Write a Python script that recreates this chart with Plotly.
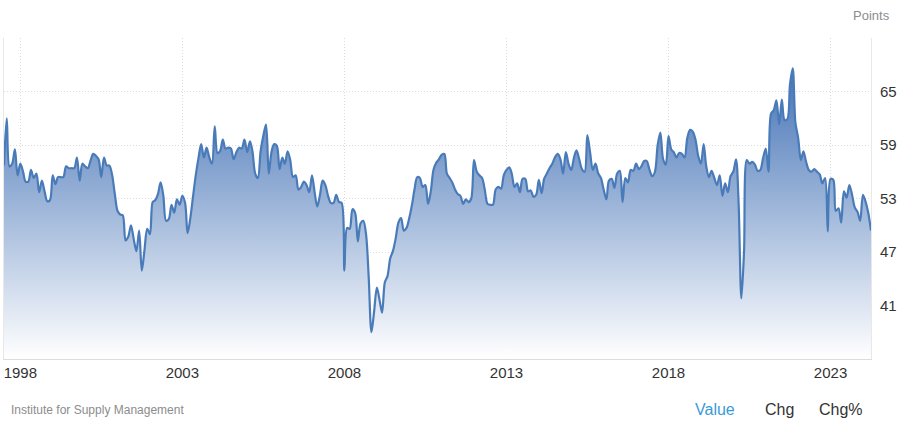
import pandas as pd
import plotly.graph_objects as go

# Monthly values, July 1997 .. April 2024
start_month = "1997-07-01"
values = [
    56.7, 62.0, 56.6, 56.9, 58.5, 55.6, 56.9, 56.0, 54.9, 54.9,
    56.2, 55.3, 55.8, 53.7, 55.0, 53.8, 52.7, 52.8, 55.6, 54.6,
    55.4, 55.4, 55.4, 56.6, 56.4, 56.4, 56.4, 57.6, 55.0, 56.9,
    56.6, 56.4, 57.2, 58.0, 57.8, 57.4, 55.4, 57.6, 56.7, 56.7,
    55.6, 53.5, 51.6, 51.2, 51.1, 48.3, 48.7, 50.0, 48.5, 47.1,
    49.4, 44.9, 47.3, 49.6, 49.0, 52.6, 52.8, 53.5, 54.8, 53.3,
    50.5, 50.7, 52.3, 51.4, 52.9, 52.3, 53.3, 52.5, 49.1, 50.8,
    53.2, 55.6, 57.5, 59.1, 57.6, 58.7, 57.6, 56.9, 61.1, 58.1,
    58.3, 59.6, 58.6, 58.7, 58.6, 57.4, 58.2, 58.7, 58.6, 59.6,
    58.2, 59.4, 58.3, 55.8, 55.3, 58.3, 60.0, 61.3, 55.8, 58.2,
    59.1, 58.9, 56.3, 57.6, 56.9, 58.3, 57.3, 55.4, 55.6, 54.0,
    54.3, 54.9, 54.5, 53.7, 55.6, 53.6, 52.1, 53.4, 55.0, 54.5,
    53.3, 52.5, 52.5, 53.4, 52.6, 52.5, 44.9, 49.7, 49.6, 51.8,
    51.4, 48.2, 50.2, 50.5, 49.0, 44.2, 38.0, 40.3, 43.0, 41.6,
    40.2, 43.6, 44.3, 46.3, 47.1, 48.5, 50.3, 50.8, 49.4, 49.7,
    50.8, 52.3, 54.0, 55.4, 55.3, 54.3, 54.5, 52.4, 53.8, 56.2,
    57.0, 57.4, 57.9, 58.0, 55.8, 55.3, 54.8, 54.0, 53.5, 53.3,
    52.4, 52.9, 52.6, 53.0, 57.3, 56.0, 55.6, 55.3, 54.0, 52.4,
    52.3, 52.3, 54.0, 54.3, 54.1, 55.6, 56.2, 56.5, 55.8, 54.3,
    54.7, 53.7, 55.2, 55.2, 53.8, 53.9, 53.2, 53.4, 55.1, 53.6,
    55.2, 55.8, 56.4, 56.9, 57.6, 58.0, 57.4, 55.8, 58.2, 56.9,
    56.2, 57.6, 58.4, 57.4, 56.3, 56.0, 60.1, 58.2, 56.2, 56.9,
    55.8, 55.3, 54.0, 52.9, 55.0, 55.2, 54.2, 55.8, 56.1, 52.6,
    55.3, 54.8, 56.2, 56.1, 56.9, 56.3, 56.6, 57.2, 57.2, 56.2,
    55.5, 56.0, 59.0, 60.4, 57.4, 56.8, 60.0, 58.5, 58.2, 57.6,
    58.1, 58.0, 57.6, 59.8, 60.7, 60.5, 59.6, 57.8, 56.9, 59.1,
    56.7, 55.4, 56.1, 55.3, 54.5, 55.6, 53.3, 54.7, 53.7, 55.5,
    56.0, 57.4, 52.5, 41.8, 47.0, 57.3, 56.9, 57.1, 56.8, 56.1,
    56.2, 57.5, 58.6, 56.0, 62.5, 62.9, 64.0, 61.3, 64.1, 61.8,
    61.9, 65.8, 67.6, 61.5, 59.8, 57.3, 58.3, 57.1, 56.2, 56.0,
    56.3, 56.0, 55.7, 54.7, 55.3, 49.3, 55.2, 55.1, 51.6, 51.9,
    50.3, 53.8, 53.1, 54.5, 53.4, 52.0, 51.5, 50.5, 53.4, 52.6,
    51.4, 49.4,
]
dates = pd.date_range(start_month, periods=len(values), freq="MS")

y_ticks = [35, 41, 47, 53, 59, 65, 71]
y_tick_labels = ["", "41", "47", "53", "59", "65", ""]
x_tick_years = ["1998", "2003", "2008", "2013", "2018", "2023"]

W, H = 900, 424
L, R, T, B = 3, 872, 38, 359

def px(x):
    return (x - L) / (R - L)

def py(y):
    return (B - y) / (B - T)

fig = go.Figure()
fig.add_trace(go.Scatter(
    x=dates, y=values, mode="lines",
    line=dict(color="#4a7bb9", width=2.2, shape="spline", smoothing=0.9),
    fill="tozeroy",
    fillgradient=dict(type="vertical", start=35, stop=66,
                      colorscale=[[0, "rgb(255,255,255)"], [1, "rgb(78,122,186)"]]),
    hoverinfo="skip", showlegend=False,
))

fig.update_layout(
    width=W, height=H,
    margin=dict(l=L, r=W - R, t=T, b=H - B),
    paper_bgcolor="white", plot_bgcolor="white",
    font=dict(family="Liberation Sans, Arial, sans-serif", color="#333333"),
    xaxis=dict(
        type="date",
        range=[dates[0], dates[-1]],
        tickvals=[f"{y}-01-01" for y in x_tick_years],
        ticktext=x_tick_years,
        showgrid=True, gridcolor="#dcdcdc", griddash="1px,2px", gridwidth=1,
        showline=True, linecolor="#dcdcdc", linewidth=1,
        ticks="", tickfont=dict(size=15, color="#333333"),
        zeroline=False,
    ),
    yaxis=dict(
        side="right", range=[35, 71],
        tickvals=y_ticks, ticktext=y_tick_labels,
        showgrid=True, gridcolor="#dcdcdc", griddash="1px,2px", gridwidth=1,
        showline=True, mirror=True, linecolor="#e8e8e8", linewidth=1,
        ticks="", ticklabelstandoff=5,
        tickfont=dict(size=15, color="#333333"),
        zeroline=False,
    ),
    annotations=[
        dict(text="Points", xref="paper", yref="paper", x=px(893), y=py(15),
             xanchor="right", yanchor="middle", showarrow=False,
             font=dict(size=13, color="#8c8c8c")),
        dict(text="Institute for Supply Management", xref="paper", yref="paper",
             x=px(8), y=py(410), xanchor="left", yanchor="middle", showarrow=False,
             font=dict(size=12, color="#8c8c8c")),
        dict(text="Value", xref="paper", yref="paper", x=px(716), y=py(410),
             xanchor="center", yanchor="middle", showarrow=False,
             font=dict(size=16, color="#3b9ad9")),
        dict(text="Chg", xref="paper", yref="paper", x=px(780), y=py(410),
             xanchor="center", yanchor="middle", showarrow=False,
             font=dict(size=16, color="#333333")),
        dict(text="Chg%", xref="paper", yref="paper", x=px(842), y=py(410),
             xanchor="center", yanchor="middle", showarrow=False,
             font=dict(size=16, color="#333333")),
    ],
)

fig.write_html(
    "out.html",
    config={"displayModeBar": False, "staticPlot": True},
    post_script="document.body.style.margin='0px';document.body.style.overflow='hidden';",
)
